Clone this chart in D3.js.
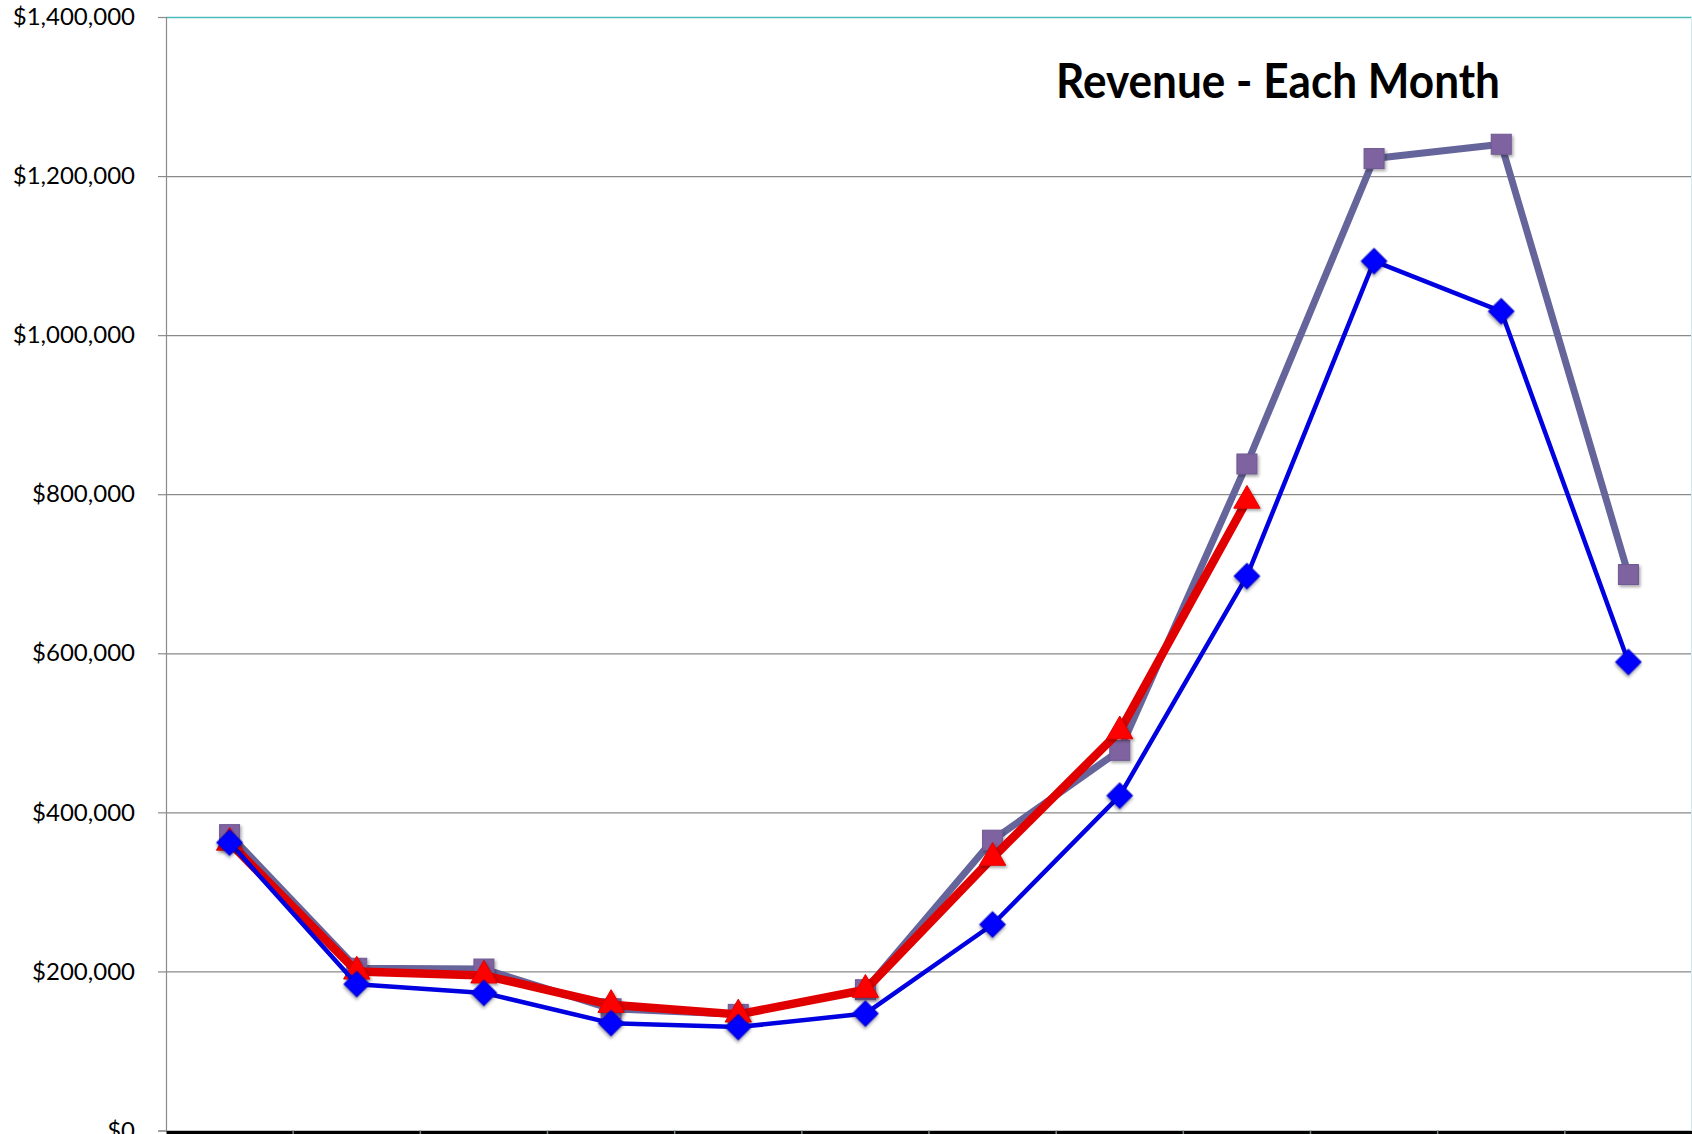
<!DOCTYPE html>
<html>
<head>
<meta charset="utf-8">
<script src="https://cdn.jsdelivr.net/npm/d3@7"></script>
<style>
  body { margin: 0; background: #fff; }
  svg { display: block; }
</style>
</head>
<body>
<div id="chart"></div>
<script>
// data (no month labels are shown on the x axis)
const months = ["Jan", "Feb", "Mar", "Apr", "May", "Jun", "Jul", "Aug", "Sep", "Oct", "Nov", "Dec"];
const seriesSquare = [372000, 204000, 203000, 153000, 146000, 177000, 365000, 478000, 838000, 1222000, 1240000, 699000];
const seriesDiamond = [362000, 184000, 173000, 135000, 130000, 147000, 259000, 421000, 697000, 1093000, 1030000, 589000];
const seriesTriangle = [362000, 200000, 195000, 158000, 146000, 177000, 343000, 502000, 792000];
const yTicks = [0, 200000, 400000, 600000, 800000, 1000000, 1200000, 1400000];
const title = "Revenue - Each Month";

const width = 1692, height = 1134;
const margin = { top: 17, right: 0, bottom: 3.5, left: 166 };
const innerW = width - margin.left - margin.right;
const innerH = height - margin.top - margin.bottom;

const svg = d3.select("#chart")
  .append("svg")
  .attr("width", width)
  .attr("height", height);

svg.append("rect").attr("width", width).attr("height", height).attr("fill", "#fff");

// soft shadow under the markers
const defs = svg.append("defs");
defs.append("filter")
  .attr("id", "shadow")
  .attr("x", "-50%").attr("y", "-50%")
  .attr("width", "200%").attr("height", "200%")
  .append("feDropShadow")
  .attr("dx", 1.5).attr("dy", 2)
  .attr("stdDeviation", 1.8)
  .attr("flood-color", "#000")
  .attr("flood-opacity", 0.35);

const g = svg.append("g").attr("transform", `translate(${margin.left},${margin.top})`);

const x = d3.scaleBand().domain(months).range([0, innerW]);
const y = d3.scaleLinear().domain([0, 1400000]).range([innerH, 0]);

// horizontal grid
g.append("g")
  .attr("class", "grid")
  .call(d3.axisLeft(y).tickValues(yTicks).tickSize(-innerW).tickFormat(""))
  .call((s) => s.select(".domain").remove())
  .call((s) =>
    s.selectAll(".tick line")
      .attr("stroke", (d) => (d === 1400000 ? "#4fbcbc" : "#8a8a8a"))
      .attr("stroke-width", (d) => (d === 1400000 ? 1.6 : 1.2))
  );

// right border of the plot area
g.append("line")
  .attr("x1", innerW - 0.5).attr("x2", innerW - 0.5)
  .attr("y1", 0).attr("y2", innerH)
  .attr("stroke", "#cfeaea")
  .attr("stroke-width", 1);

// y axis
g.append("g")
  .call(
    d3.axisLeft(y)
      .tickValues(yTicks)
      .tickSize(8)
      .tickPadding(23)
      .tickFormat((d) => "$" + d3.format(",")(d))
  )
  .call((s) => s.select(".domain").attr("stroke", "#8a8a8a").attr("stroke-width", 1.2))
  .call((s) => s.selectAll(".tick line").attr("stroke", "#8a8a8a").attr("stroke-width", 1.2))
  .call((s) =>
    s.selectAll(".tick text")
      .attr("fill", "#000")
      .style("font-family", "Lato, 'Open Sans', sans-serif")
      .style("font-size", "24px")
  );

// x axis: thick black bar with light separators
const xAxis = g.append("g")
  .attr("transform", `translate(0,${innerH + 3})`)
  .call(d3.axisBottom(x).tickSize(0).tickFormat(""));
xAxis.select(".domain").attr("stroke", "#000").attr("stroke-width", 6);
xAxis.selectAll(".sep")
  .data(months.slice(1))
  .join("line")
  .attr("class", "sep")
  .attr("x1", (d) => x(d)).attr("x2", (d) => x(d))
  .attr("y1", -3).attr("y2", 4)
  .attr("stroke", "#7a8484")
  .attr("stroke-width", 1.5);

const cx = (i) => x(months[i]) + x.bandwidth() / 2;
const line = d3.line().x((d, i) => cx(i)).y((d) => y(d));

// series 1: grey-purple squares
g.append("path")
  .datum(seriesSquare)
  .attr("d", line)
  .attr("fill", "none")
  .attr("stroke", "#65659b")
  .attr("stroke-width", 7)
  .attr("stroke-linejoin", "round");
g.selectAll(".sq")
  .data(seriesSquare)
  .join("rect")
  .attr("class", "sq")
  .attr("x", (d, i) => cx(i) - 10)
  .attr("y", (d) => y(d) - 10)
  .attr("width", 20)
  .attr("height", 20)
  .attr("fill", "#7f62a0")
  .attr("stroke", "#6e5a92")
  .attr("stroke-width", 1)
  .attr("filter", "url(#shadow)");

// series 2: red triangles
g.append("path")
  .datum(seriesTriangle)
  .attr("d", line)
  .attr("fill", "none")
  .attr("stroke", "#e00000")
  .attr("stroke-width", 8.5)
  .attr("stroke-linejoin", "round");
g.selectAll(".tri")
  .data(seriesTriangle)
  .join("path")
  .attr("class", "tri")
  .attr("d", d3.symbol(d3.symbolTriangle, 300))
  .attr("transform", (d, i) => `translate(${cx(i)},${y(d)})`)
  .attr("fill", "#ff0000")
  .attr("stroke", "#e00000")
  .attr("stroke-width", 1)
  .attr("filter", "url(#shadow)");

// series 3: blue diamonds
g.append("path")
  .datum(seriesDiamond)
  .attr("d", line)
  .attr("fill", "none")
  .attr("stroke", "#0000e0")
  .attr("stroke-width", 4.5)
  .attr("stroke-linejoin", "round");
g.selectAll(".dia")
  .data(seriesDiamond)
  .join("rect")
  .attr("class", "dia")
  .attr("x", -9)
  .attr("y", -9)
  .attr("width", 18)
  .attr("height", 18)
  .attr("transform", (d, i) => `translate(${cx(i)},${y(d)}) rotate(45)`)
  .attr("fill", "#0000ff")
  .attr("stroke", "#0000c8")
  .attr("stroke-width", 1)
  .attr("filter", "url(#shadow)");

// title
svg.append("text")
  .attr("x", 1056)
  .attr("y", 98)
  .attr("textLength", 444)
  .attr("lengthAdjust", "spacingAndGlyphs")
  .style("font-family", "Lato, 'Open Sans', sans-serif")
  .style("font-weight", 700)
  .style("font-size", "48px")
  .attr("fill", "#000")
  .text(title);
</script>
</body>
</html>
